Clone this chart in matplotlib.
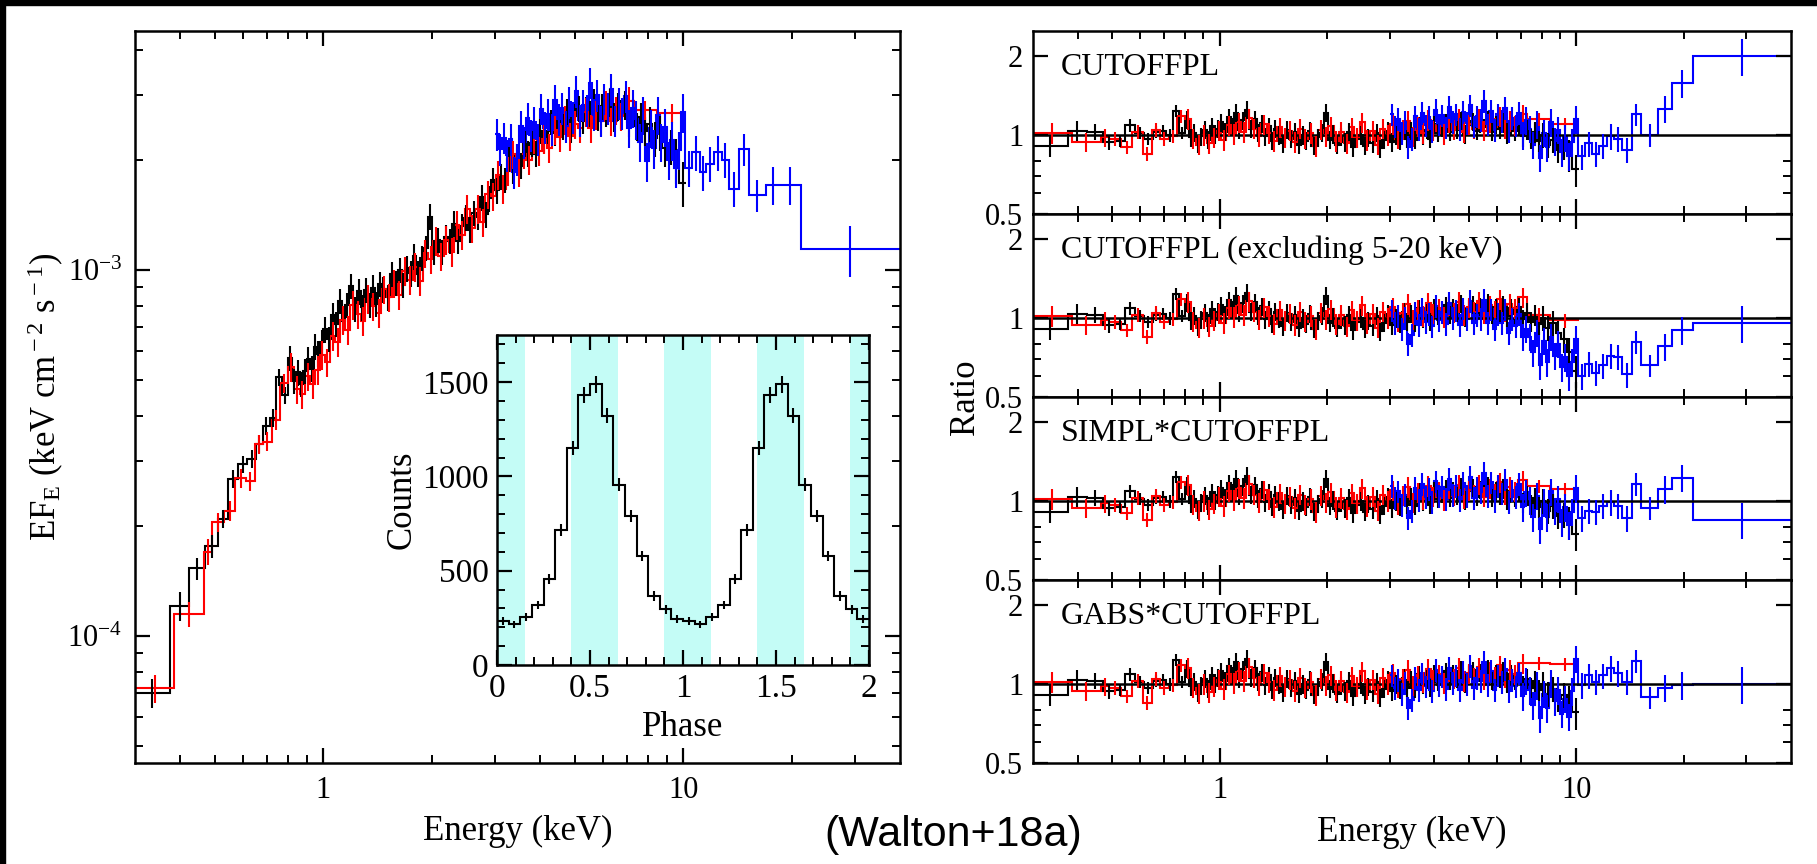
import numpy as np
import matplotlib
matplotlib.use("Agg")
import matplotlib.pyplot as plt
from matplotlib.patches import Rectangle
from matplotlib.ticker import (FixedLocator, NullFormatter, LogFormatterMathtext,
                               FormatStrFormatter, MultipleLocator)

# ---- data ----
# XMM pn (black): bin edges (keV), EF_E (1e-4), ratio to CUTOFFPL
bk_edges = [0.30, 0.375, 0.425, 0.47, 0.51, 0.545, 0.58, 0.615, 0.65, 0.68,
            0.71, 0.74, 0.77,
            0.80, 0.82, 0.84, 0.86, 0.88, 0.90, 0.92, 0.94, 0.96, 0.98,
            1.00, 1.025, 1.05, 1.075, 1.10, 1.125, 1.15, 1.18, 1.21, 1.24,
            1.27, 1.30, 1.33, 1.36, 1.39, 1.42, 1.45, 1.49, 1.53, 1.57,
            1.61, 1.65, 1.69, 1.73, 1.77, 1.81, 1.86, 1.91, 1.96, 2.01,
            2.06, 2.11, 2.16, 2.22, 2.28, 2.34, 2.40, 2.46, 2.52, 2.58,
            2.65, 2.72, 2.79, 2.86, 2.93, 3.00, 3.08, 3.16, 3.24, 3.32,
            3.40, 3.49, 3.58, 3.67, 3.76, 3.85, 3.95, 4.05, 4.15, 4.25,
            4.36, 4.47, 4.58, 4.70, 4.82, 4.94, 5.06, 5.19, 5.32, 5.45,
            5.59, 5.73, 5.87, 6.02, 6.17, 6.33, 6.49, 6.65, 6.82, 6.99,
            7.17, 7.35, 7.55, 7.75, 7.95, 8.20, 8.45, 8.75, 9.05, 9.40,
            9.75, 10.20]
bk_flux = [0.70, 1.21, 1.53, 1.76, 2.09, 2.69, 2.95, 3.05, 3.35, 3.75, 3.95, 5.10, 4.55,
           5.75, 4.98, 5.25, 4.88, 5.30, 5.72, 5.38, 6.18, 5.91, 6.36,
           6.89, 6.49, 7.55, 7.13, 8.24, 7.25, 8.04, 9.06, 7.84, 8.74,
           7.91, 8.82, 8.02, 8.96, 8.08, 9.17, 8.85, 8.42, 9.77, 9.22,
           9.99, 9.11, 10.1, 9.79, 10.9, 9.78, 10.8, 11.5, 14.0, 11.2,
           12.1, 11.2, 12.3, 12.0, 13.4, 12.0, 13.2, 13.9, 12.9, 14.3,
           14.0, 15.8, 14.2, 15.7, 17.6, 16.5, 18.0, 17.6, 20.1, 18.7,
           20.5, 19.3, 22.2, 20.8, 22.2, 20.8, 24.0, 22.5, 24.0, 25.4,
           23.7, 25.6, 24.7, 27.1, 24.2, 26.4, 27.6, 25.6, 27.5, 26.8,
           28.9, 26.1, 28.0, 27.1, 28.7, 26.2, 28.0, 26.7, 28.3, 25.4,
           26.9, 24.7, 26.2, 24.0, 25.1, 22.9, 23.7, 21.5, 21.7, 20.0,
           17.3]
bk_ratio = [0.91, 1.04, 1.03, 0.94, 0.95, 1.09, 1.02, 0.97, 1.03, 1.04, 1.00, 1.24, 1.02,
            1.15, 0.98, 1.02, 0.93, 0.99, 1.05, 0.96, 1.08, 1.01, 1.06,
            1.12, 1.03, 1.17, 1.08, 1.22, 1.05, 1.14, 1.25, 1.06, 1.15,
            1.02, 1.11, 0.99, 1.08, 0.95, 1.06, 1.00, 0.93, 1.05, 0.97,
            1.03, 0.92, 1.00, 0.95, 1.04, 0.91, 0.98, 1.02, 1.22, 0.96,
            1.01, 0.92, 0.99, 0.94, 1.03, 0.90, 0.97, 1.00, 0.91, 0.98,
            0.93, 1.02, 0.89, 0.96, 1.04, 0.94, 1.00, 0.95, 1.06, 0.97,
            1.04, 0.96, 1.09, 1.00, 1.05, 0.97, 1.10, 1.02, 1.07, 1.12,
            1.03, 1.10, 1.05, 1.14, 1.01, 1.09, 1.13, 1.04, 1.11, 1.07,
            1.15, 1.03, 1.10, 1.06, 1.12, 1.02, 1.09, 1.04, 1.10, 0.99,
            1.05, 0.97, 1.03, 0.95, 1.00, 0.92, 0.96, 0.88, 0.90, 0.84,
            0.74]
# the last three black ratios change a little from model to model
bk_tail = [[0.90, 0.84, 0.74], [0.83, 0.74, 0.63], [0.89, 0.83, 0.75], [0.91, 0.86, 0.78]]
# fractional errors by energy band (upper band limits in keV)
bk_err_bounds = [0.4, 0.5, 0.8, 6.0, 8.0, 9.5]
bk_err_levels = [0.09, 0.07, 0.055, 0.08, 0.09, 0.11, 0.14]

# XMM MOS (red)
rd_edges = [0.30, 0.385, 0.465, 0.49, 0.53, 0.57, 0.61, 0.645, 0.68, 0.72, 0.76,
            0.80, 0.83, 0.86, 0.89, 0.92, 0.95, 0.98, 1.01, 1.045, 1.08,
            1.115, 1.15, 1.19, 1.23, 1.27, 1.31, 1.355, 1.40, 1.45, 1.50,
            1.55, 1.60, 1.655, 1.71, 1.77, 1.83, 1.89, 1.955, 2.02, 2.09,
            2.16, 2.235, 2.31, 2.39, 2.47, 2.555, 2.64, 2.73, 2.82, 2.915,
            3.01, 3.11, 3.215, 3.32, 3.43, 3.545, 3.665, 3.79, 3.915, 4.045,
            4.18, 4.32, 4.465, 4.615, 4.77, 4.93, 5.095, 5.265, 5.44, 5.62,
            5.81, 6.005, 6.205, 6.41, 6.625, 6.85, 7.30, 8.45, 10.20]
rd_flux = [0.72, 1.15, 1.70, 2.05, 2.20, 2.70, 2.65, 3.35, 3.40, 3.90, 4.90,
           5.44, 4.72, 4.58, 5.12, 4.89, 5.34, 5.87, 5.60, 6.61, 6.36,
           7.31, 6.87, 8.02, 7.57, 7.26, 8.33, 7.96, 7.64, 8.85, 8.43,
           9.19, 8.57, 9.96, 9.39, 10.2, 9.33, 11.1, 10.7, 12.0, 10.9,
           12.1, 11.2, 13.3, 12.5, 14.7, 13.0, 14.7, 13.5, 16.1, 15.9,
           18.2, 16.7, 18.7, 20.7, 18.5, 20.7, 20.0, 22.8, 21.2, 22.8,
           21.6, 24.2, 23.1, 25.7, 23.2, 25.0, 24.4, 27.0, 24.4, 26.5,
           25.6, 28.3, 25.5, 27.3, 26.3, 29.0, 27.3, 26.8]
rd_ratio = [1.02, 0.94, 0.98, 0.97, 0.90, 1.03, 0.85, 1.05, 0.97, 0.99, 1.18,
            1.15, 0.97, 0.92, 1.00, 0.93, 0.98, 1.04, 0.96, 1.09, 1.01,
            1.12, 1.03, 1.16, 1.06, 0.99, 1.10, 1.02, 0.95, 1.07, 0.98,
            1.04, 0.94, 1.06, 0.97, 1.02, 0.91, 1.05, 0.99, 1.08, 0.95,
            1.03, 0.93, 1.07, 0.98, 1.12, 0.96, 1.04, 0.92, 1.06, 1.00,
            1.10, 0.97, 1.05, 1.13, 0.99, 1.08, 1.02, 1.14, 1.04, 1.09,
            1.01, 1.12, 1.05, 1.15, 1.03, 1.10, 1.06, 1.16, 1.04, 1.12,
            1.07, 1.18, 1.06, 1.13, 1.09, 1.20, 1.15, 1.10]
rd_tail = [[1.15, 1.10], [1.03, 0.98], [1.14, 1.11], [1.20, 1.19]]
rd_err_bounds = [0.4, 0.5, 0.8, 7.3]
rd_err_levels = [0.09, 0.08, 0.06, 0.09, 0.06]

# NuSTAR (blue): EF_E (1e-3) and ratios for the four models
bl_edges = [3.0, 3.07, 3.14, 3.21, 3.28, 3.35, 3.42, 3.50, 3.58, 3.66,
            3.74, 3.82, 3.90, 3.99, 4.08, 4.17, 4.26, 4.36, 4.46, 4.56,
            4.66, 4.77, 4.88, 4.99, 5.10, 5.22, 5.34, 5.46, 5.58, 5.71,
            5.84, 5.97, 6.11, 6.25, 6.39, 6.54, 6.69, 6.84, 7.00, 7.16,
            7.32, 7.49, 7.66, 7.84, 8.02, 8.21, 8.40, 8.60, 8.80, 9.00,
            9.21, 9.43, 9.65, 9.87, 10.10,
            10.6, 11.1, 11.6, 12.2, 12.8, 13.4, 14.3, 15.2, 17.0, 18.5, 21.2, 40.0]
bl_flux = [2.35, 2.14, 2.30, 2.06, 2.28, 1.85, 2.01, 2.47, 2.24, 2.60,
           2.34, 2.54, 2.28, 2.76, 2.45, 2.67, 2.42, 2.92, 2.58, 2.77,
           2.47, 2.88, 2.62, 3.08, 2.57, 2.82, 2.74, 3.25, 2.66, 3.01,
           2.56, 2.94, 2.77, 3.12, 2.56, 2.85, 2.68, 2.99, 2.45, 2.78,
           2.58, 2.24, 2.66, 1.98, 2.45, 2.15, 2.65, 2.24, 2.46, 2.00,
           2.26, 1.90, 2.13, 2.70,
           1.90, 2.10, 1.85, 1.95, 2.10, 2.00, 1.67, 2.14, 1.60, 1.71, 1.71, 1.14]
bl_r1 = [1.20, 1.08, 1.15, 1.02, 1.12, 0.90, 0.97, 1.18, 1.06, 1.22,
         1.09, 1.17, 1.04, 1.25, 1.10, 1.19, 1.07, 1.28, 1.12, 1.20,
         1.06, 1.23, 1.11, 1.30, 1.08, 1.18, 1.14, 1.35, 1.10, 1.24,
         1.05, 1.20, 1.13, 1.27, 1.04, 1.16, 1.09, 1.22, 1.00, 1.14,
         1.06, 0.92, 1.10, 0.82, 1.02, 0.90, 1.12, 0.95, 1.05, 0.86,
         0.98, 0.83, 0.94, 1.15,
         0.83, 0.93, 0.85, 0.91, 0.99, 0.97, 0.88, 1.20, 1.00, 1.26, 1.58, 2.00]
bl_r2 = [1.07, 0.96, 1.02, 0.91, 1.00, 0.80, 0.86, 1.05, 0.94, 1.09,
         0.97, 1.04, 0.93, 1.11, 0.98, 1.06, 0.95, 1.14, 1.00, 1.07,
         0.94, 1.09, 0.99, 1.16, 0.96, 1.03, 0.99, 1.17, 0.96, 1.08,
         0.91, 1.04, 0.96, 1.08, 0.88, 0.99, 0.93, 1.04, 0.85, 0.91,
         0.85, 0.74, 0.88, 0.66, 0.82, 0.68, 0.85, 0.72, 0.80, 0.65,
         0.71, 0.60, 0.68, 0.83,
         0.60, 0.67, 0.62, 0.66, 0.72, 0.71, 0.61, 0.81, 0.66, 0.78, 0.90, 0.96]
bl_r3 = [1.14, 1.03, 1.09, 0.97, 1.06, 0.86, 0.92, 1.12, 1.01, 1.16,
         1.04, 1.11, 0.99, 1.19, 1.05, 1.13, 1.02, 1.22, 1.06, 1.14,
         1.01, 1.17, 1.05, 1.24, 1.03, 1.12, 1.08, 1.28, 1.05, 1.18,
         1.00, 1.14, 1.07, 1.21, 0.99, 1.10, 1.04, 1.16, 0.95, 1.08,
         1.01, 0.87, 1.05, 0.78, 0.99, 0.87, 1.09, 0.92, 1.02, 0.83,
         0.95, 0.81, 0.91, 1.12,
         0.86, 0.92, 0.91, 0.96, 0.99, 0.96, 0.86, 1.16, 0.94, 1.11, 1.23, 0.85]
bl_r4 = [1.08, 0.97, 1.04, 0.92, 1.01, 0.81, 0.87, 1.06, 0.95, 1.10,
         0.98, 1.05, 0.94, 1.13, 0.99, 1.07, 0.96, 1.15, 1.01, 1.08,
         0.95, 1.11, 1.00, 1.17, 0.97, 1.06, 1.03, 1.22, 0.99, 1.12,
         0.95, 1.08, 1.02, 1.14, 0.94, 1.04, 0.98, 1.10, 0.90, 1.03,
         0.95, 0.83, 0.99, 0.74, 0.92, 0.81, 1.01, 0.86, 0.95, 0.77,
         0.88, 0.75, 0.94, 1.25,
         0.99, 1.08, 1.02, 1.08, 1.15, 1.10, 1.02, 1.23, 0.89, 0.97, 0.99, 1.00]
bl_err_bounds = [7.0, 10.1, 14.3, 17.0, 21.2]
bl_err_levels = [0.10, 0.12, 0.11, 0.10, 0.12, 0.16]

model_names = ["CUTOFFPL", "CUTOFFPL (excluding 5-20 keV)",
               "SIMPL*CUTOFFPL", "GABS*CUTOFFPL"]

# pulse profile (16 bins per cycle, shown twice)
pulse_counts = [232, 215, 255, 318, 458, 718, 1150, 1433,
                1488, 1323, 956, 788, 577, 366, 295, 246]
pulse_err = [20, 19, 21, 23, 27, 32, 38, 42, 43, 40, 35, 32, 28, 24, 22, 21]
on_phases = [(0.0, 0.15), (0.4, 0.65), (0.9, 1.15), (1.4, 1.65), (1.9, 2.0)]

# ---- style ----
plt.rcParams["font.family"] = ["Liberation Serif", "DejaVu Serif"]
plt.rcParams["mathtext.fontset"] = "custom"
plt.rcParams["mathtext.rm"] = "Liberation Serif"
plt.rcParams["mathtext.it"] = "Liberation Serif:italic"
plt.rcParams["mathtext.bf"] = "Liberation Serif:bold"
plt.rcParams["axes.linewidth"] = 1.8
plt.rcParams["xtick.direction"] = "in"
plt.rcParams["ytick.direction"] = "in"
plt.rcParams["xtick.top"] = True
plt.rcParams["ytick.right"] = True

LW = 1.5
TICK_FS = 22
LABEL_FS = 25
W, H = 1817, 864


def band_err(edges, bounds, levels):
    e = np.asarray(edges, dtype=float)
    centers = np.sqrt(e[:-1] * e[1:])
    return np.asarray(levels)[np.searchsorted(bounds, centers)]


def draw_binned(ax, edges, vals, errs, color):
    edges = np.asarray(edges, dtype=float)
    vals = np.asarray(vals, dtype=float)
    centers = np.sqrt(edges[:-1] * edges[1:])
    ax.stairs(vals, edges, color=color, lw=LW, baseline=None)
    ax.errorbar(centers, vals, yerr=vals * np.asarray(errs), fmt="none",
                ecolor=color, elinewidth=LW, capsize=0)


def style_energy_axis(ax):
    ax.set_xscale("log")
    ax.set_xlim(0.3, 40)
    ax.xaxis.set_major_locator(FixedLocator([1, 10]))
    ax.xaxis.set_minor_locator(FixedLocator([0.4, 0.5, 0.6, 0.7, 0.8, 0.9,
                                             2, 3, 4, 5, 6, 7, 8, 9, 20, 30]))
    ax.xaxis.set_major_formatter(FormatStrFormatter("%g"))
    ax.xaxis.set_minor_formatter(NullFormatter())
    ax.tick_params(which="major", length=11, width=1.6, labelsize=TICK_FS, pad=9)
    ax.tick_params(which="minor", length=6, width=1.4)


bk_err = band_err(bk_edges, bk_err_bounds, bk_err_levels)
rd_err = band_err(rd_edges, rd_err_bounds, rd_err_levels)
bl_err = band_err(bl_edges, bl_err_bounds, bl_err_levels)

fig = plt.figure(figsize=(W / 100, H / 100), dpi=100)

# ---- left: unfolded spectrum ----
ax = fig.add_axes([135 / W, 1 - 763 / H, 765 / W, 732 / H])
style_energy_axis(ax)
ax.set_yscale("log")
ax.set_ylim(4.5e-5, 4.5e-3)
ax.yaxis.set_major_locator(FixedLocator([1e-4, 1e-3]))
ax.yaxis.set_major_formatter(LogFormatterMathtext())
ax.yaxis.set_minor_locator(FixedLocator([5e-5, 6e-5, 7e-5, 8e-5, 9e-5,
                                         2e-4, 3e-4, 4e-4, 5e-4, 6e-4, 7e-4, 8e-4, 9e-4,
                                         2e-3, 3e-3, 4e-3]))
ax.yaxis.set_minor_formatter(NullFormatter())

draw_binned(ax, bk_edges, np.array(bk_flux) * 1e-4, bk_err, "black")
draw_binned(ax, rd_edges, np.array(rd_flux) * 1e-4, rd_err, "red")
draw_binned(ax, bl_edges, np.array(bl_flux) * 1e-3, bl_err, "blue")

ax.text(0.5, -0.094, "Energy (keV)", transform=ax.transAxes,
        ha="center", va="center", fontsize=LABEL_FS)
fig.text(46 / W, 1 - 397 / H, r"EF$_{\rm E}$ (keV cm$^{\rm -2}$ s$^{\rm -1}$)",
         rotation=90, ha="center", va="center", fontsize=LABEL_FS)

# ---- inset: pulse profile ----
axin = fig.add_axes([497 / W, 1 - 665 / H, 372 / W, 330 / H])
axin.set_xlim(0, 2)
axin.set_ylim(0, 1750)
for a, b in on_phases:
    axin.axvspan(a, b, color="#c4fcf6", lw=0, zorder=0)
phase_edges = np.arange(33) / 16
counts2 = np.concatenate([pulse_counts, pulse_counts])
errs2 = np.concatenate([pulse_err, pulse_err])
axin.stairs(counts2, phase_edges, color="black", lw=LW, baseline=None)
axin.errorbar(0.5 * (phase_edges[:-1] + phase_edges[1:]), counts2, yerr=errs2,
              fmt="none", ecolor="black", elinewidth=LW, capsize=0)
axin.xaxis.set_major_locator(FixedLocator([0, 0.5, 1, 1.5, 2]))
axin.xaxis.set_minor_locator(MultipleLocator(0.1))
axin.xaxis.set_major_formatter(FormatStrFormatter("%g"))
axin.yaxis.set_major_locator(FixedLocator([0, 500, 1000, 1500]))
axin.yaxis.set_minor_locator(MultipleLocator(100))
axin.tick_params(which="major", length=11, width=1.6, labelsize=24, pad=6)
axin.tick_params(which="minor", length=6, width=1.4)
axin.text(0.5, -0.19, "Phase", transform=axin.transAxes,
          ha="center", va="center", fontsize=LABEL_FS)
axin.text(-0.255, 0.5, "Counts", transform=axin.transAxes, rotation=90,
          ha="center", va="center", fontsize=LABEL_FS)

# ---- right: data/model ratios ----
ratio_sets = [bl_r1, bl_r2, bl_r3, bl_r4]
panel_h = 183
for i in range(4):
    top = 31 + i * panel_h
    axr = fig.add_axes([1033 / W, 1 - (top + panel_h) / H, 758 / W, panel_h / H])
    style_energy_axis(axr)
    axr.set_yscale("log")
    axr.set_ylim(0.5, 2.5)
    axr.yaxis.set_major_locator(FixedLocator([0.5, 1, 2]))
    axr.yaxis.set_major_formatter(FormatStrFormatter("%g"))
    axr.yaxis.set_minor_locator(FixedLocator([0.6, 0.7, 0.8]))
    axr.yaxis.set_minor_formatter(NullFormatter())
    axr.tick_params(axis="y", which="major", pad=7)
    if i < 3:
        axr.tick_params(labelbottom=False)

    bk_r = list(bk_ratio[:-3]) + bk_tail[i]
    rd_r = list(rd_ratio[:-2]) + rd_tail[i]
    draw_binned(axr, bk_edges, bk_r, bk_err, "black")
    draw_binned(axr, rd_edges, rd_r, rd_err, "red")
    draw_binned(axr, bl_edges, ratio_sets[i], bl_err, "blue")
    axr.axhline(1.0, color="black", lw=1.8, zorder=1)
    axr.text(0.037, 0.80, model_names[i], transform=axr.transAxes,
             ha="left", va="center", fontsize=23)
    if i == 3:
        axr.text(0.5, -0.377, "Energy (keV)", transform=axr.transAxes,
                 ha="center", va="center", fontsize=LABEL_FS)

fig.text(965 / W, 1 - 397 / H, "Ratio", rotation=90, ha="center", va="center",
         fontsize=LABEL_FS)

fig.text(953 / W, 1 - 835 / H, "(Walton+18a)", ha="center", va="center",
         fontsize=31, family=["Liberation Sans", "DejaVu Sans"])

# black frame strips on the top and left edges
fig.patches.append(Rectangle((0, 1 - 5 / H), 1, 5 / H, transform=fig.transFigure,
                             color="black", zorder=10))
fig.patches.append(Rectangle((0, 0), 5 / W, 1, transform=fig.transFigure,
                             color="black", zorder=10))

fig.savefig("out.png", dpi=100)
